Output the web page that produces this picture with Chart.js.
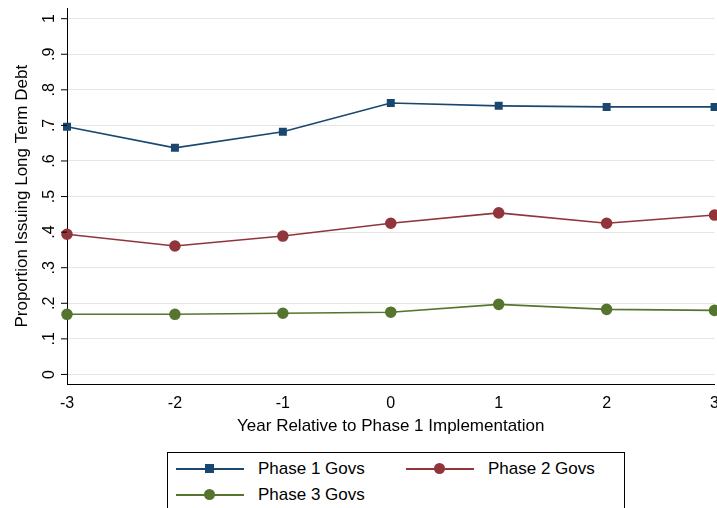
<!DOCTYPE html><html><head><meta charset="utf-8">
<script src="https://cdn.jsdelivr.net/npm/chart.js@4"></script>
<style>body{margin:0;background:#fff;font-family:"Liberation Sans",Arial,sans-serif;overflow:hidden}
#outer{width:717px;height:445px;overflow:hidden}
#wrap{position:relative;width:722px;height:445px}
#leg{position:absolute;left:167px;top:452px;width:458px;height:60px;border:1px solid #000;box-sizing:border-box;font-size:17px}
.it{position:absolute;display:flex;align-items:center}
.ln{position:relative;width:68px;height:2px;margin-right:14px}
.mk{position:absolute;left:28px;top:-5px;width:11px;height:11px}
</style></head><body>
<div id="outer"><div id="wrap"><canvas id="c"></canvas></div></div>
<div id="leg">
<div class="it" style="left:8px;top:6px"><div class="ln" style="background:#1a476f"><div class="mk" style="background:#1a476f;left:29px;top:-4px;width:9px;height:9px"></div></div>Phase 1 Govs</div>
<div class="it" style="left:238px;top:6px"><div class="ln" style="background:#90353b"><div class="mk" style="background:#90353b;border-radius:50%"></div></div>Phase 2 Govs</div>
<div class="it" style="left:8px;top:32px"><div class="ln" style="background:#55752f"><div class="mk" style="background:#55752f;border-radius:50%"></div></div>Phase 3 Govs</div>
</div>
<script>
const years=[-3,-2,-1,0,1,2,3];
const phase1=[0.696,0.637,0.682,0.763,0.755,0.752,0.752];
const phase2=[0.394,0.361,0.389,0.425,0.454,0.425,0.448];
const phase3=[0.169,0.169,0.172,0.175,0.197,0.183,0.180];
const yTicks=[0,0.1,0.2,0.3,0.4,0.5,0.6,0.7,0.8,0.9,1];
const yLabels=['0','.1','.2','.3','.4','.5','.6','.7','.8','.9','1'];
const ds=(l,d,c,s,r)=>({label:l,data:years.map((x,i)=>({x,y:d[i]})),borderColor:c,backgroundColor:c,borderWidth:1.6,pointStyle:s,pointRadius:r,pointHoverRadius:r,tension:0,clip:false});
const rotY={id:'rotY',afterDraw(ch){const s=ch.scales.y,g=ch.ctx;g.save();g.font='16px "Liberation Sans",Arial';g.fillStyle='#000';g.textAlign='center';g.textBaseline='bottom';
yTicks.forEach((v,i)=>{const y=s.getPixelForValue(v);g.save();g.translate(ch.chartArea.left-9,y);g.rotate(-Math.PI/2);g.fillText(yLabels[i],0,0);g.restore();
g.beginPath();g.moveTo(ch.chartArea.left,y);g.lineTo(ch.chartArea.left-6,y);g.strokeStyle='#000';g.lineWidth=1;g.stroke();});g.restore();}};
new Chart(document.getElementById('c'),{type:'line',data:{datasets:[ds('Phase 1 Govs',phase1,'#1a476f','rect',4.5),ds('Phase 2 Govs',phase2,'#90353b','circle',5),ds('Phase 3 Govs',phase3,'#55752f','circle',5)]},
options:{responsive:true,maintainAspectRatio:false,animation:false,layout:{padding:{top:8,right:-1,left:0,bottom:4}},
plugins:{legend:{display:false},tooltip:{enabled:false}},
scales:{x:{type:'linear',min:-3,max:3,afterBuildTicks:s=>{s.ticks=years.map(v=>({value:v}))},border:{color:'#000'},grid:{display:false,drawTicks:true,tickLength:7,tickColor:'#000'},
ticks:{color:'#000',font:{size:16,family:'"Liberation Sans",Arial'},maxRotation:0,padding:3},
title:{display:true,text:'Year Relative to Phase 1 Implementation',color:'#000',font:{size:17,family:'"Liberation Sans",Arial'},padding:{top:0}}},
y:{min:-0.028,max:1.03,afterBuildTicks:s=>{s.ticks=yTicks.map(v=>({value:v}))},afterFit:s=>{s.width=67},border:{color:'#000'},
grid:{color:'#e6e6e6',lineWidth:1,drawTicks:false},ticks:{display:false},
title:{display:false}}}},plugins:[rotY,{id:'yt',afterDraw(ch){const g=ch.ctx;g.save();g.font='17px "Liberation Sans",Arial';g.fillStyle='#000';g.textAlign='center';g.translate(27,(ch.chartArea.top+ch.chartArea.bottom)/2);g.rotate(-Math.PI/2);g.fillText('Proportion Issuing Long Term Debt',0,0);g.restore();}}]});
</script></body></html>
